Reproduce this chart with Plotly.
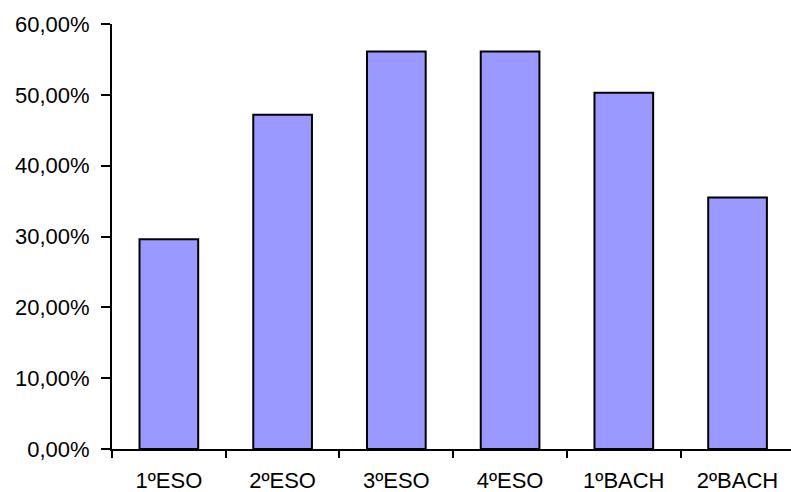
import plotly.graph_objects as go

categories = ["1ºESO", "2ºESO", "3ºESO", "4ºESO", "1ºBACH", "2ºBACH"]
values = [0.296, 0.472, 0.561, 0.561, 0.503, 0.355]
y_tickvals = [0, 0.1, 0.2, 0.3, 0.4, 0.5, 0.6]
y_ticktext = ["0,00%", "10,00%", "20,00%", "30,00%", "40,00%", "50,00%", "60,00%"]

fig = go.Figure(go.Bar(
    x=categories, y=values,
    marker=dict(color="#9999FF", line=dict(color="black", width=2)),
))

fig.update_layout(
    width=791, height=492,
    margin=dict(l=112, r=0, t=24, b=43),
    plot_bgcolor="white", paper_bgcolor="white",
    bargap=0.484,
    showlegend=False,
    font=dict(family="Liberation Sans, Arial, sans-serif", size=22, color="black"),
)
fig.update_xaxes(
    type="category", range=[-0.5, 5.47],
    showline=True, linecolor="black", linewidth=2,
    ticks="outside", tickson="boundaries", ticklen=7, tickwidth=2, tickcolor="black",
    ticklabelstandoff=11, automargin=False,
    showgrid=False, zeroline=False,
)
fig.update_yaxes(
    range=[0, 0.6], tickvals=y_tickvals, ticktext=y_ticktext,
    showline=True, linecolor="black", linewidth=2,
    ticks="outside", ticklen=9, tickwidth=2, tickcolor="black",
    ticklabelstandoff=7, automargin=False,
    showgrid=False, zeroline=False,
)

fig.write_html("out.html")
